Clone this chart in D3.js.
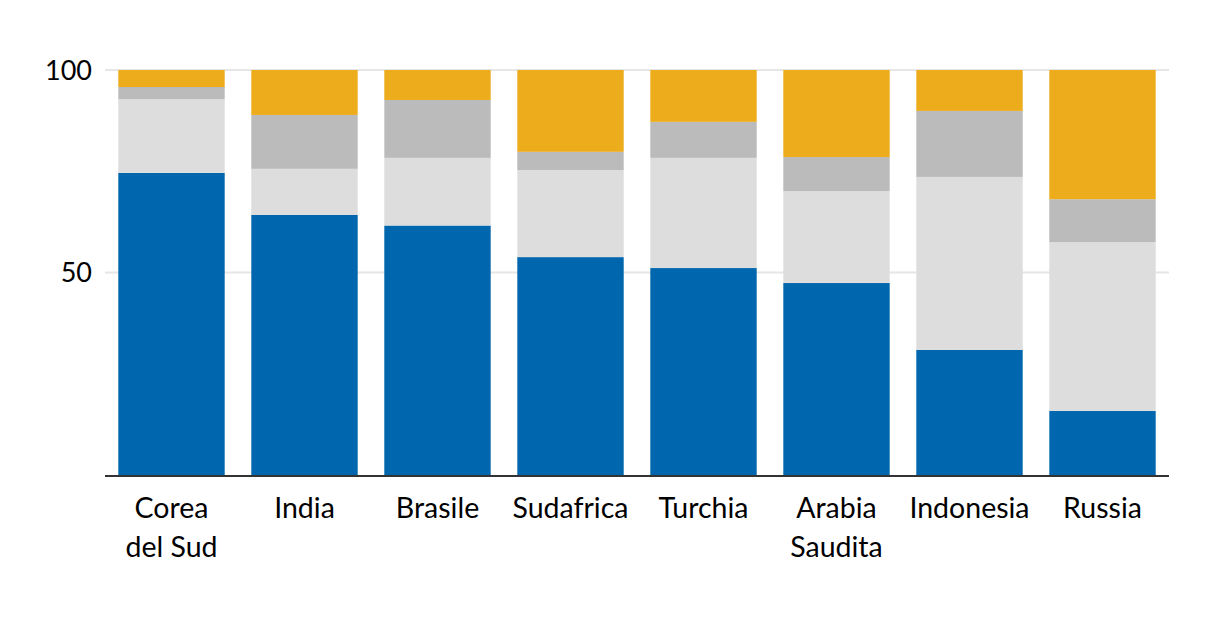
<!DOCTYPE html>
<html>
<head>
<meta charset="utf-8">
<script src="https://cdn.jsdelivr.net/npm/d3@7"></script>
<style>
  body { margin: 0; background: #fff; }
  svg text { font-family: Lato, "Noto Sans", sans-serif; fill: #000; }
</style>
</head>
<body>
<svg id="chart" width="1220" height="624"></svg>
<script>
// data (percent shares)
const categories = ["Corea del Sud", "India", "Brasile", "Sudafrica", "Turchia", "Arabia Saudita", "Indonesia", "Russia"];
const seriesA = [74.6, 64.2, 61.6, 53.8, 51.1, 47.4, 30.9, 15.8]; // blue
const seriesB = [18.2, 11.4, 16.7, 21.5, 27.2, 22.7, 42.7, 41.7]; // light grey
const seriesC = [3.0, 13.3, 14.3, 4.5, 8.9, 8.4, 16.3, 10.6];     // grey
const seriesD = [4.2, 11.1, 7.4, 20.2, 12.8, 21.5, 10.1, 31.9];   // orange
const yTicks = [50, 100];

const colors = ["#0067ae", "#dddddd", "#bbbbbb", "#ecac1c"];
const keys = ["a", "b", "c", "d"];

const rows = categories.map(function(c, i) {
  return { cat: c, a: seriesA[i], b: seriesB[i], c: seriesC[i], d: seriesD[i] };
});

const svg = d3.select("#chart");
const plotLeft = 105, plotRight = 1169, plotTop = 70, plotBottom = 475;

const x = d3.scaleBand()
  .domain(categories)
  .range([plotLeft, plotRight])
  .paddingInner(0.2)
  .paddingOuter(0.1);

const y = d3.scaleLinear().domain([0, 100]).range([plotBottom, plotTop]);

// gridlines
svg.append("g")
  .selectAll("line")
  .data(yTicks)
  .enter()
  .append("line")
  .attr("x1", plotLeft)
  .attr("x2", plotRight)
  .attr("y1", function(d) { return y(d); })
  .attr("y2", function(d) { return y(d); })
  .attr("stroke", "#e6e6e6")
  .attr("stroke-width", 2);

// y labels
svg.append("g")
  .selectAll("text")
  .data(yTicks)
  .enter()
  .append("text")
  .attr("x", 92)
  .attr("y", function(d) { return y(d); })
  .attr("dy", "0.36em")
  .attr("text-anchor", "end")
  .attr("font-size", 27)
  .text(function(d) { return d; });

// stacked bars
const stacked = d3.stack().keys(keys)(rows);

svg.append("g")
  .selectAll("g")
  .data(stacked)
  .enter()
  .append("g")
  .attr("fill", function(d, i) { return colors[i]; })
  .selectAll("rect")
  .data(function(d) { return d; })
  .enter()
  .append("rect")
  .attr("x", function(d) { return x(d.data.cat); })
  .attr("width", x.bandwidth())
  .attr("y", function(d) { return y(d[1]); })
  .attr("height", function(d) { return y(d[0]) - y(d[1]); });

// baseline
svg.append("line")
  .attr("x1", plotLeft)
  .attr("x2", plotRight)
  .attr("y1", plotBottom + 1)
  .attr("y2", plotBottom + 1)
  .attr("stroke", "#333")
  .attr("stroke-width", 2);

// category labels, wrapped on two lines where needed
const labels = svg.append("g")
  .selectAll("text")
  .data(categories)
  .enter()
  .append("text")
  .attr("text-anchor", "middle")
  .attr("font-size", 28.5)
  .attr("x", function(d) { return x(d) + x.bandwidth() / 2; })
  .attr("y", 518);

labels.each(function(d) {
  let parts = [d];
  if (d === "Corea del Sud") parts = ["Corea", "del Sud"];
  if (d === "Arabia Saudita") parts = ["Arabia", "Saudita"];
  const t = d3.select(this);
  parts.forEach(function(p, i) {
    t.append("tspan")
      .attr("x", x(d) + x.bandwidth() / 2)
      .attr("dy", i === 0 ? 0 : 39)
      .text(p);
  });
});
</script>
</body>
</html>
